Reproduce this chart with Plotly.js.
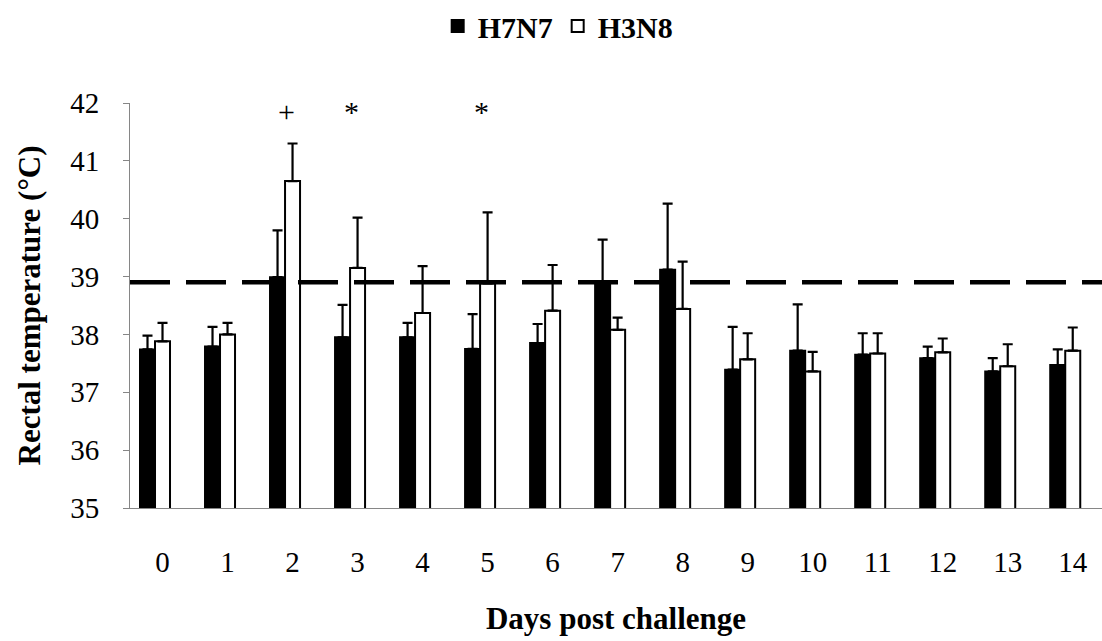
<!DOCTYPE html>
<html>
<head>
<meta charset="utf-8">
<script src="https://cdn.plot.ly/plotly-3.0.1.min.js"></script>
<style>
  html, body { margin: 0; padding: 0; background: #ffffff; }
  #chart { width: 1102px; height: 641px; }
</style>
</head>
<body>
<div id="chart"></div>
<script>
// Days post challenge
const days = [0, 1, 2, 3, 4, 5, 6, 7, 8, 9, 10, 11, 12, 13, 14];
const dayLabels = ['0','1','2','3','4','5','6','7','8','9','10','11','12','13','14'];

// Mean rectal temperature (°C)
const h7n7Mean = [37.74, 37.79, 38.99, 37.95, 37.95, 37.75, 37.85, 38.89, 39.12, 37.39, 37.72, 37.65, 37.59, 37.36, 37.47];
const h3n8Mean = [37.88, 38.00, 40.65, 39.15, 38.37, 38.88, 38.41, 38.08, 38.44, 37.57, 37.36, 37.67, 37.69, 37.45, 37.72];

// Upper error (SD)
const h7n7Err = [0.24, 0.34, 0.81, 0.56, 0.25, 0.60, 0.33, 0.75, 1.14, 0.74, 0.80, 0.37, 0.20, 0.23, 0.27];
const h3n8Err = [0.32, 0.20, 0.65, 0.87, 0.81, 1.23, 0.79, 0.21, 0.82, 0.45, 0.34, 0.35, 0.24, 0.38, 0.40];

// Fever threshold
const feverThreshold = 38.9;

// Significance marks
const markDays = [2, 3, 5];
const markSymbols = ['+', '*', '*'];
const markLevel = 41.85;

const serif = 'Liberation Serif';
const zeros = days.map(() => 0);

const traces = [
  {
    type: 'bar', name: 'H7N7', x: days, y: h7n7Mean,
    width: 0.2308, offset: -0.3462,
    marker: { color: '#000000', line: { color: '#000000', width: 2 } },
    error_y: { type: 'data', array: h7n7Err, arrayminus: zeros, symmetric: false,
               color: '#000000', thickness: 2.2, width: 5 }
  },
  {
    type: 'bar', name: 'H3N8', x: days, y: h3n8Mean,
    width: 0.2308, offset: -0.1154,
    marker: { color: '#ffffff', line: { color: '#000000', width: 2 } },
    error_y: { type: 'data', array: h3n8Err, arrayminus: zeros, symmetric: false,
               color: '#000000', thickness: 2.2, width: 5 }
  }
];

const layout = {
  width: 1102, height: 641,
  margin: { l: 130, r: 0, t: 97, b: 133 },
  paper_bgcolor: '#ffffff', plot_bgcolor: '#ffffff',
  font: { family: serif, color: '#000000' },
  showlegend: true,
  legend: {
    orientation: 'h', x: 0.44, xanchor: 'center', y: 1.19, yanchor: 'middle',
    font: { family: serif, size: 30, color: '#000000', weight: 700 },
    itemwidth: 30, tracegroupgap: 0, bgcolor: 'rgba(0,0,0,0)'
  },
  xaxis: {
    range: [-0.5, 14.45],
    tickmode: 'array', tickvals: days, ticktext: dayLabels,
    ticks: '', showgrid: false, zeroline: false,
    showline: true, linecolor: '#868686', linewidth: 1,
    tickfont: { family: serif, size: 29, color: '#000000' },
    ticklabelstandoff: 28,
    title: { text: 'Days post challenge', font: { family: serif, size: 31, color: '#000000', weight: 700 }, standoff: 30 }
  },
  yaxis: {
    range: [35, 42], dtick: 1, tick0: 35,
    ticks: 'outside', ticklen: 6, tickcolor: '#868686', tickwidth: 1,
    showgrid: false, zeroline: false,
    showline: true, linecolor: '#868686', linewidth: 1,
    tickfont: { family: serif, size: 29, color: '#000000' },
    ticklabelstandoff: 18,
    title: { text: 'Rectal temperature (°C)', font: { family: serif, size: 31, color: '#000000', weight: 700 }, standoff: 20 }
  },
  shapes: [
    { type: 'line', xref: 'paper', yref: 'y', x0: 0, x1: 1, y0: feverThreshold, y1: feverThreshold,
      layer: 'above', line: { color: '#000000', width: 4.5, dash: '40px,16px' } }
  ],
  annotations: markDays.map((d, i) => ({
    x: d, y: markLevel, xref: 'x', yref: 'y', text: markSymbols[i],
    showarrow: false, xshift: -6,
    font: { family: serif, size: 30, color: '#000000' }
  }))
};

Plotly.newPlot('chart', traces, layout, { displayModeBar: false, staticPlot: true });
</script>
</body>
</html>
